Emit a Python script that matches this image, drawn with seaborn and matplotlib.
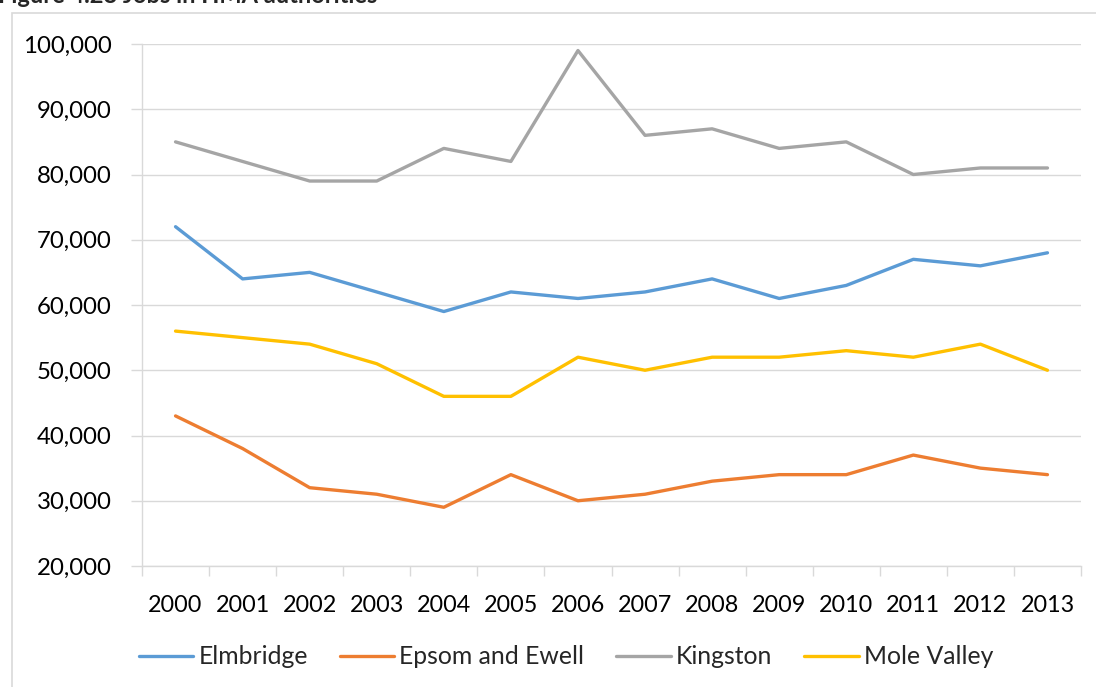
import numpy as np
import pandas as pd
import matplotlib
matplotlib.use("Agg")
import matplotlib.pyplot as plt
from matplotlib.patches import Rectangle
from matplotlib.ticker import FuncFormatter, FixedLocator
import seaborn as sns

years = [2000, 2001, 2002, 2003, 2004, 2005, 2006, 2007, 2008, 2009, 2010, 2011, 2012, 2013]
elmbridge = [72000, 64000, 65000, 62000, 59000, 62000, 61000, 62000, 64000, 61000, 63000, 67000, 66000, 68000]
epsom_ewell = [43000, 38000, 32000, 31000, 29000, 34000, 30000, 31000, 33000, 34000, 34000, 37000, 35000, 34000]
kingston = [85000, 82000, 79000, 79000, 84000, 82000, 99000, 86000, 87000, 84000, 85000, 80000, 81000, 81000]
mole_valley = [56000, 55000, 54000, 51000, 46000, 46000, 52000, 50000, 52000, 52000, 53000, 52000, 54000, 50000]
series_names = ["Elmbridge", "Epsom and Ewell", "Kingston", "Mole Valley"]
colors = ["#5B9BD5", "#ED7D31", "#A5A5A5", "#FFC000"]
title = "Figure 4.28 Jobs in HMA authorities"

sns.set_theme(style="white")
plt.rcParams['font.family'] = ['Lato', 'DejaVu Sans']

rows = []
for name, vals in zip(series_names, [elmbridge, epsom_ewell, kingston, mole_valley]):
    for i, (y, v) in enumerate(zip(years, vals)):
        rows.append({"idx": i, "year": y, "value": v, "series": name})
df = pd.DataFrame(rows)

fig = plt.figure(figsize=(10.96, 6.87), dpi=100)
ax = fig.add_axes([142/1096, 1-566/687, (1081-142)/1096, (566-44)/687])

sns.lineplot(data=df, x="idx", y="value", hue="series", hue_order=series_names,
             palette=colors, linewidth=2.4, ax=ax, legend=False, sort=False)

grid_c = "#D9D9D9"
ax.set_xlim(-0.5, len(years) - 0.5)
ax.set_ylim(20000, 100000)
ax.set_yticks(np.arange(20000, 100001, 10000))
ax.yaxis.set_major_formatter(FuncFormatter(lambda v, p: f"{int(v):,}"))
ax.set_xticks(range(len(years)))
ax.set_xticklabels([str(y) for y in years])
ax.xaxis.set_minor_locator(FixedLocator(np.arange(-0.5, len(years), 1.0)))
ax.tick_params(axis="x", which="major", length=0, pad=21, labelsize=16.8, colors="black")
ax.tick_params(axis="x", which="minor", length=7, width=1, color=grid_c, bottom=True)
ax.tick_params(axis="y", which="major", length=8, width=1, color=grid_c, pad=14, labelsize=17.3, colors="black", left=True)
ax.set_xlabel("")
ax.set_ylabel("")
ax.grid(axis="y", color=grid_c, linewidth=1)
ax.set_axisbelow(True)
for s in ["top", "right"]:
    ax.spines[s].set_visible(False)
for s in ["left", "bottom"]:
    ax.spines[s].set_color(grid_c)
    ax.spines[s].set_linewidth(1)

# chart border
fig.patches.append(Rectangle((12/1096, -0.01), 1.1, 1-13/687 + 0.01, transform=fig.transFigure,
                             fill=False, edgecolor=grid_c, linewidth=1.2))

# partially cropped title at top (as in the reference)
fig.text(-0.002, 1 - 3/687, title, fontsize=17, fontweight="bold", ha="left", va="baseline")

handles = [plt.Line2D([0], [0], color=c, linewidth=2.4) for c in colors]
fig.legend(handles, series_names, loc="center", bbox_to_anchor=(566/1096, 1-657/687), ncol=4,
           frameon=False, fontsize=17.8, handlelength=2.2, handletextpad=0.2, columnspacing=1.3)

fig.savefig("out.png", dpi=100)
